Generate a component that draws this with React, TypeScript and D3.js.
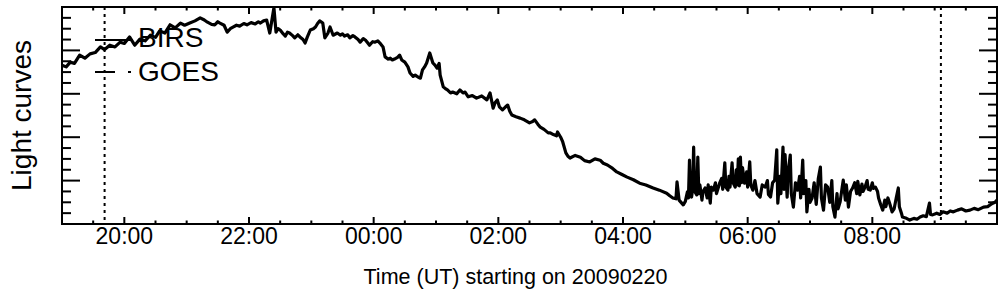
import React, { useEffect, useRef } from "react";
import * as d3 from "d3";

// BIRS light curve: [minutes after 2009-02-20 19:00 UT, relative level]
const birsSamples: [number, number][] = [
  [0, 3.66], [4, 3.62], [8, 3.73], [12, 3.70], [17, 3.89], [22, 3.82], [27, 3.92], [32, 3.95], [37, 4.08], [41, 4.02],
  [46, 4.12], [51, 4.08], [56, 4.19], [60, 4.16], [65, 4.31], [70, 4.12], [75, 4.26], [80, 4.22], [85, 4.35], [90, 4.30],
  [94, 4.45], [99, 4.40], [104, 4.59], [109, 4.52], [114, 4.63], [118, 4.58], [123, 4.63], [128, 4.68], [133, 4.75], [137, 4.70],
  [140, 4.65], [144, 4.60], [147, 4.59], [150, 4.66], [152, 4.63], [156, 4.58], [159, 4.42], [162, 4.50], [165, 4.54], [168, 4.58],
  [171, 4.56], [175, 4.62], [178, 4.59], [182, 4.64], [186, 4.61], [189, 4.66], [191, 4.63], [194, 4.68], [197, 4.70], [200, 4.40],
  [204, 4.98], [206, 4.42], [208, 4.50], [210, 4.47], [213, 4.38], [215, 4.33], [217, 4.42], [219, 4.40], [222, 4.34], [224, 4.29],
  [227, 4.36], [229, 4.31], [232, 4.25], [234, 4.17], [236, 4.30], [239, 4.47], [242, 4.50], [244, 4.54], [246, 4.62], [248, 4.68],
  [251, 4.63], [253, 4.29], [256, 4.40], [258, 4.54], [261, 4.35], [265, 4.40], [268, 4.35], [270, 4.38], [272, 4.33], [275, 4.36],
  [277, 4.29], [280, 4.34], [282, 4.31], [285, 4.25], [287, 4.19], [290, 4.27], [292, 4.24], [294, 4.18], [296, 4.12], [299, 4.20],
  [301, 4.19], [304, 4.22], [306, 4.17], [309, 4.08], [311, 3.85], [314, 3.80], [316, 3.82], [318, 3.78], [320, 3.80], [323, 3.84],
  [325, 3.89], [327, 3.78], [330, 3.73], [333, 3.62], [335, 3.48], [338, 3.40], [340, 3.43], [343, 3.38], [345, 3.36], [347, 3.55],
  [349, 3.62], [351, 3.71], [354, 3.94], [357, 3.71], [359, 3.66], [361, 3.59], [363, 3.70], [364, 3.43], [367, 3.16], [369, 3.12],
  [371, 3.09], [374, 3.02], [376, 3.04], [380, 3.00], [383, 3.09], [386, 3.02], [388, 3.04], [391, 2.93], [395, 2.96], [399, 2.90],
  [404, 2.95], [409, 2.86], [412, 3.02], [415, 2.67], [417, 2.80], [419, 2.86], [421, 2.70], [424, 2.63], [427, 2.70], [429, 2.74],
  [431, 2.60], [433, 2.51], [437, 2.47], [441, 2.44], [445, 2.40], [450, 2.33], [453, 2.36], [455, 2.40], [458, 2.30], [460, 2.24],
  [464, 2.18], [468, 2.10], [470, 2.10], [473, 2.06], [476, 2.03], [477, 2.12], [480, 2.00], [482, 1.89], [485, 1.64], [487, 1.56],
  [489, 1.52], [494, 1.58], [499, 1.54], [503, 1.46], [508, 1.43], [513, 1.50], [518, 1.47], [521, 1.40], [525, 1.36], [530, 1.28],
  [534, 1.20], [539, 1.14], [544, 1.08], [550, 1.02], [556, 0.94], [562, 0.90], [569, 0.83], [575, 0.78], [582, 0.71], [585, 0.65],
  [588, 0.60], [591, 0.58], [592, 0.97], [594, 0.55], [598, 0.44], [600, 0.52], [602, 0.74], [603, 0.60], [604, 1.47], [605, 0.70],
  [606, 0.62], [607, 0.80], [608, 1.77], [609, 0.75], [611, 0.67], [612, 1.54], [613, 0.70], [614, 0.90], [616, 0.55], [617, 0.75],
  [619, 0.83], [621, 0.60], [622, 0.90], [624, 0.48], [625, 0.85], [627, 0.78], [629, 0.95], [630, 0.70], [633, 0.94], [635, 1.05],
  [636, 0.80], [638, 1.41], [639, 0.85], [641, 0.78], [642, 1.10], [643, 0.85], [645, 1.41], [646, 0.95], [648, 0.85], [649, 1.25],
  [650, 0.90], [651, 1.50], [652, 0.88], [653, 1.54], [654, 0.95], [655, 1.30], [657, 0.94], [659, 1.20], [660, 0.85], [662, 1.43],
  [663, 0.90], [665, 0.78], [667, 1.00], [669, 0.70], [672, 0.62], [674, 0.90], [677, 0.85], [679, 1.00], [680, 0.68], [682, 0.62],
  [684, 0.95], [686, 1.01], [688, 1.71], [689, 0.48], [691, 1.10], [692, 0.70], [694, 1.77], [695, 0.80], [696, 1.60], [698, 0.62],
  [699, 1.20], [701, 1.59], [702, 0.70], [704, 0.39], [706, 0.95], [708, 0.78], [710, 1.10], [711, 0.60], [713, 1.47], [714, 0.70],
  [716, 1.00], [717, 0.28], [719, 0.80], [720, 0.50], [722, 0.60], [724, 0.95], [726, 0.45], [728, 1.05], [730, 1.31], [731, 0.60],
  [733, 0.32], [735, 0.90], [737, 0.85], [739, 0.50], [741, 1.00], [742, 0.40], [744, 0.16], [746, 0.70], [747, 0.35], [749, 0.51],
  [751, 0.85], [752, 1.01], [754, 0.55], [755, 0.90], [757, 0.39], [759, 0.75], [761, 0.83], [763, 0.95], [765, 0.70], [766, 0.98],
  [768, 0.67], [770, 0.92], [771, 0.75], [773, 0.85], [775, 1.00], [776, 0.80], [778, 0.78], [780, 0.95], [781, 0.82], [783, 0.85],
  [785, 0.75], [786, 0.60], [788, 0.45], [790, 0.32], [792, 0.55], [793, 0.40], [795, 0.60], [797, 0.45], [799, 0.28], [801, 0.35],
  [803, 0.60], [805, 0.83], [806, 0.40], [808, 0.25], [809, 0.16], [812, 0.14], [816, 0.09], [820, 0.13], [823, 0.11], [826, 0.16],
  [829, 0.19], [832, 0.17], [835, 0.48], [836, 0.22], [838, 0.21], [842, 0.25], [845, 0.22], [848, 0.28], [852, 0.25], [855, 0.30],
  [858, 0.28], [862, 0.32], [866, 0.35], [870, 0.30], [874, 0.32], [878, 0.36], [882, 0.33], [887, 0.39], [891, 0.40], [894, 0.45],
  [896, 0.48], [898, 0.50], [900, 0.55]
];

// vertical dotted markers (minutes after 19:00)
const markerMinutes = [41, 846];

const legendLabels = ["BIRS", "GOES"];
const xTitle = "Time (UT) starting on 20090220";
const yTitle = "Light curves";

const t0 = Date.UTC(2009, 1, 20, 19, 0);
const toDate = (m: number) => new Date(t0 + m * 60000);

export default function App() {
  const ref = useRef<SVGSVGElement>(null);

  useEffect(() => {
    const W = 1004, H = 296;
    const margin = { top: 7, right: 7, bottom: 72, left: 62 };
    const w = W - margin.left - margin.right;
    const h = H - margin.top - margin.bottom;

    const svg = d3.select(ref.current);
    svg.selectAll("*").remove();
    const g = svg.append("g").attr("transform", `translate(${margin.left},${margin.top})`);

    const x = d3.scaleUtc().domain([toDate(0), toDate(900)]).range([0, w]);
    const y = d3.scaleLinear().domain([0, 5]).range([h, 0]);

    const minorX = x.ticks(d3.utcMinute.every(30)!);
    const majorX = minorX.filter(d => d.getUTCMinutes() === 0 && d.getUTCHours() % 2 === 0 && x(d) < w - 1);
    const majorY = [1, 2, 3, 4];
    const minorY = d3.range(0.25, 5, 0.25);

    const font = "'Liberation Sans', Arial, Helvetica, sans-serif";

    // ticks
    const tk = g.append("g").attr("stroke", "#000").attr("stroke-width", 2);
    minorX.forEach(d => {
      const major = majorX.some(m => +m === +d);
      const len = major ? 7 : 3.5;
      tk.append("line").attr("x1", x(d)).attr("x2", x(d)).attr("y1", h).attr("y2", h - len);
      tk.append("line").attr("x1", x(d)).attr("x2", x(d)).attr("y1", 0).attr("y2", len);
    });
    minorY.forEach(v => {
      const major = majorY.includes(v);
      const len = major ? 18 : 9;
      tk.append("line").attr("x1", 0).attr("x2", len).attr("y1", y(v)).attr("y2", y(v));
      tk.append("line").attr("x1", w).attr("x2", w - len).attr("y1", y(v)).attr("y2", y(v));
    });

    // frame
    g.append("rect").attr("width", w).attr("height", h)
      .attr("fill", "none").attr("stroke", "#000").attr("stroke-width", 2);

    // tick labels
    g.selectAll(".xlab").data(majorX).join("text").attr("class", "xlab")
      .attr("x", d => x(d)).attr("y", h + 20)
      .attr("text-anchor", "middle").attr("font-family", font).attr("font-size", 23)
      .text(d => d3.utcFormat("%H:%M")(d));

    // axis titles
    g.append("text").attr("x", w / 2 - 14).attr("y", h + 60).attr("text-anchor", "middle")
      .attr("font-family", font).attr("font-size", 21.5).text(xTitle);
    g.append("text").attr("transform", `translate(${-31},${h / 2}) rotate(-90)`)
      .attr("text-anchor", "middle").attr("font-family", font).attr("font-size", 28).text(yTitle);

    // dotted markers
    g.selectAll(".marker").data(markerMinutes).join("line").attr("class", "marker")
      .attr("x1", d => x(toDate(d))).attr("x2", d => x(toDate(d)))
      .attr("y1", 0).attr("y2", h)
      .attr("stroke", "#000").attr("stroke-width", 2).attr("stroke-dasharray", "3,4");

    // curve
    const line = d3.line<[number, number]>()
      .x(d => x(toDate(d[0])))
      .y(d => y(d[1]));
    g.append("path").attr("d", line(birsSamples)!)
      .attr("fill", "none").attr("stroke", "#000").attr("stroke-width", 3.2)
      .attr("stroke-linejoin", "round");

    // legend
    const lg = g.append("g");
    lg.append("line").attr("x1", 33).attr("x2", 71).attr("y1", 33).attr("y2", 33)
      .attr("stroke", "#000").attr("stroke-width", 2);
    lg.append("line").attr("x1", 33).attr("x2", 71).attr("y1", 65).attr("y2", 65)
      .attr("stroke", "#000").attr("stroke-width", 2).attr("stroke-dasharray", "20,13,3,10");
    lg.selectAll("text").data(legendLabels).join("text")
      .attr("x", 76).attr("y", (d, i) => 40 + i * 34)
      .attr("font-family", font).attr("font-size", 28).text(d => d);
  }, []);

  return (
    <svg ref={ref} width={1004} height={296}
      style={{ position: "absolute", left: 0, top: 0, background: "#fff" }} />
  );
}
